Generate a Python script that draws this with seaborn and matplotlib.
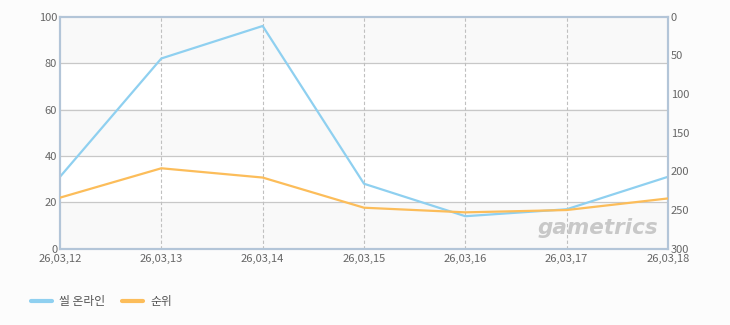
import matplotlib
matplotlib.use("Agg")
import matplotlib.pyplot as plt
import seaborn as sns
import pandas as pd

dates = ["26,03,12", "26,03,13", "26,03,14", "26,03,15", "26,03,16", "26,03,17", "26,03,18"]
seal_online = [31, 82, 96, 28, 14, 17, 31]
rank = [234, 196, 208, 247, 253, 250, 235]
series_names = ["씰 온라인", "순위"]
left_ticks = [0, 20, 40, 60, 80, 100]
right_ticks = [0, 50, 100, 150, 200, 250, 300]

sns.set_theme(style="white")
plt.rcParams['font.family'] = ['Noto Sans CJK KR', 'DejaVu Sans']

blue = "#8fd0f0"
orange = "#fcbd5a"
frame = "#b3c5d8"
tick_color = "#666666"

df = pd.DataFrame({"date": dates, "seal": seal_online, "rank": rank})
df["x"] = range(len(dates))

fig = plt.figure(figsize=(7.3, 3.25), dpi=100)
fig.patch.set_facecolor("#fcfcfc")
ax = fig.add_axes([60 / 730, 1 - 248.7 / 325, 608 / 730, 232 / 325])
ax.set_facecolor("#ffffff")

# alternating bands
for i in range(len(left_ticks) - 1):
    if i % 2 == 0:
        ax.axhspan(left_ticks[i], left_ticks[i + 1], color="#f9f9f9", zorder=0, lw=0)

ax.set_ylim(0, 100)
ax.set_xlim(0, len(dates) - 1)
ax.set_yticks(left_ticks)
for y in left_ticks[1:-1]:
    ax.axhline(y, color="#c8c8c8", lw=0.9, zorder=1)
for x in df["x"][1:-1]:
    ax.axvline(x, color="#c0c0c0", lw=0.8, ls=(0, (3, 2)), zorder=1)

ax2 = ax.twinx()
sns.lineplot(data=df, x="x", y="seal", ax=ax, color=blue, lw=1.6, label=series_names[0], legend=False, zorder=3)
sns.lineplot(data=df, x="x", y="rank", ax=ax2, color=orange, lw=1.6, label=series_names[1], legend=False, zorder=3)
ax2.set_ylim(300, 0)
ax2.set_yticks(right_ticks)

for a in (ax, ax2):
    a.set_xlabel("")
    a.set_ylabel("")
    a.tick_params(axis="both", length=0, labelsize=8, colors=tick_color, pad=2)
    for s in a.spines.values():
        s.set_color(frame)
        s.set_linewidth(1.5)
ax.set_xticks(df["x"])
ax.set_xticklabels(dates)
ax.tick_params(axis="x", pad=4)

# watermark
ax.text(0.984, 0.045, "gametrics", transform=ax.transAxes, ha="right", va="bottom",
        fontsize=15.5, fontstyle="italic", fontweight="bold", color="#c8c8c8",
        family=["DejaVu Sans"], zorder=2)

h1 = plt.Line2D([], [], color=blue, lw=3)
h2 = plt.Line2D([], [], color=orange, lw=3)
fig.legend([h1, h2], series_names, loc="center left", bbox_to_anchor=(20 / 730, 1 - 302 / 325),
           ncol=2, frameon=False, fontsize=8.5, handlelength=1.8, handletextpad=0.6,
           columnspacing=1.4, labelcolor="#555555")

fig.savefig("out.png", dpi=100, facecolor=fig.get_facecolor())
